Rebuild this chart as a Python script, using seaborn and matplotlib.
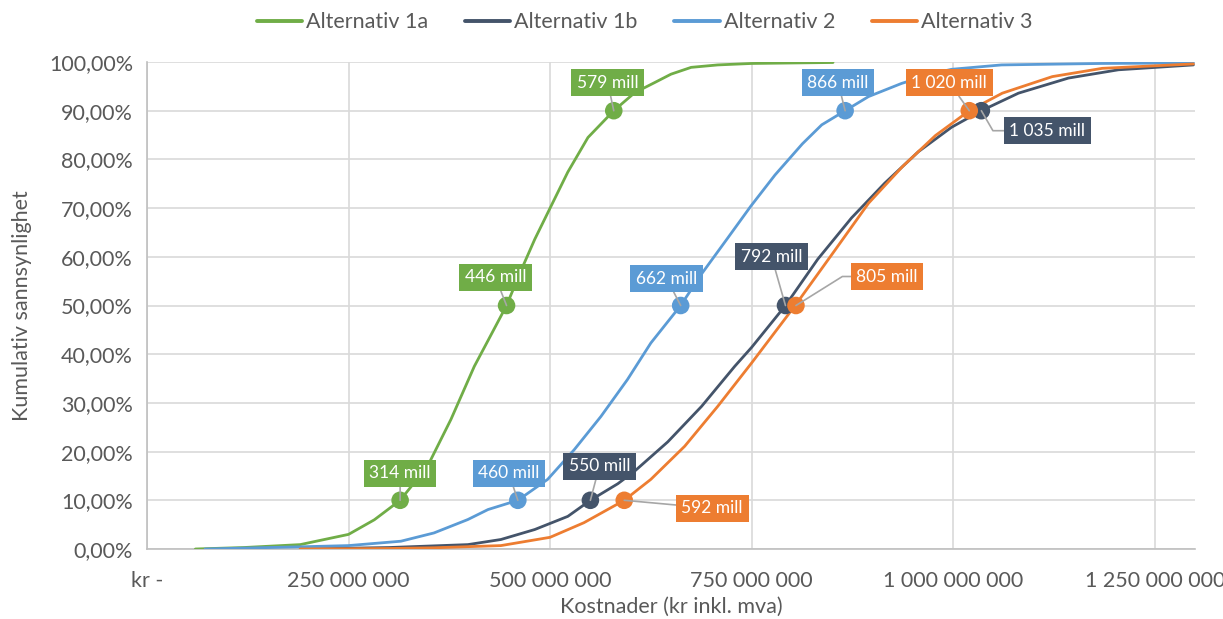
import numpy as np
import pandas as pd
import matplotlib
matplotlib.use("Agg")
import matplotlib.pyplot as plt
import seaborn as sns
from matplotlib.ticker import FuncFormatter, FixedLocator

# ---------------- data (costs in million NOK, cumulative probability in %) -------------
series_names = ["Alternativ 1a", "Alternativ 1b", "Alternativ 2", "Alternativ 3"]

alt1a_cost = [60, 120, 190, 250, 282, 314, 348, 377, 406, 423, 446, 464, 481, 500, 522,
              547, 579, 605, 630, 650, 675, 708, 750, 851]
alt1a_prob = [0, 0.3, 0.9, 3.0, 6.0, 10, 17, 26.6, 37.5, 42.8, 50, 57.2, 63.6, 70, 77.4,
              84.5, 90, 93.7, 95.8, 97.5, 98.9, 99.4, 99.7, 99.9]

alt1b_cost = [190, 300, 398, 439, 481, 522, 550, 584, 605, 646, 688, 729, 750, 792, 832,
              874, 915, 957, 998, 1035, 1081, 1143, 1205, 1298]
alt1b_prob = [0, 0.3, 0.9, 1.95, 4.0, 6.7, 10, 13.4, 16, 22, 29.3, 37.5, 41.4, 50, 59.5,
              68, 75.1, 81.6, 86.6, 90, 93.6, 96.7, 98.4, 99.4]

alt2_cost = [72, 190, 250, 315, 356, 398, 423, 460, 497, 530, 563, 596, 625, 662, 688,
             721, 749, 779, 813, 837, 866, 895, 936, 977, 998, 1060, 1184, 1298]
alt2_prob = [0, 0.45, 0.7, 1.6, 3.3, 6.05, 8.1, 10, 14.3, 20.4, 27.2, 34.8, 42.3, 50, 56.5,
             64, 70.4, 76.8, 83.2, 87.1, 90, 92.9, 95.6, 97.7, 98.5, 99.4, 99.7, 99.8]

alt3_cost = [190, 300, 356, 439, 500, 542, 592, 625, 667, 708, 750, 804, 854, 895, 937,
             978, 1020, 1061, 1123, 1185, 1298]
alt3_prob = [0, 0.1, 0.25, 0.7, 2.4, 5.4, 10, 14.3, 21.1, 29.3, 38.2, 50, 61.5, 71, 78.5,
             84.9, 90, 93.6, 97, 98.7, 99.6]

# percentile markers (P10, P50, P90)
marker_probs = [10, 50, 90]
alt1a_pct = [314, 446, 579]
alt1b_pct = [550, 792, 1035]
alt2_pct = [460, 662, 866]
alt3_pct = [592, 805, 1020]

x_ticks = [0, 250e6, 500e6, 750e6, 1000e6, 1250e6]
y_ticks = [0, 0.1, 0.2, 0.3, 0.4, 0.5, 0.6, 0.7, 0.8, 0.9, 1.0]

# ---------------- styling -------------
colors = {"Alternativ 1a": "#70AD47", "Alternativ 1b": "#44546A",
          "Alternativ 2": "#5B9BD5", "Alternativ 3": "#ED7D31"}
# label offsets in pixels (box centre relative to marker), per series per percentile
label_offsets = {
    "Alternativ 1a": [(0, 27), (-11, 28), (-6, 28)],
    "Alternativ 1b": [(9, 34), (-14, 49), (66, -20)],
    "Alternativ 2": [(-9, 27), (-14, 27), (-7, 28)],
    "Alternativ 3": [(88, -8), (91, 29), (-20, 28)],
}
label_conn = {
    ("Alternativ 1b", 2): "angle,angleA=0,angleB=-60,rad=0",
    ("Alternativ 3", 1): "angle,angleA=0,angleB=32,rad=0",
}

sns.set_theme(style="white")
font = "Lato"
plt.rcParams["font.family"] = [font, "DejaVu Sans"]
text_col = "#595959"
grid_col = "#D9D9D9"

costs = [alt1a_cost, alt1b_cost, alt2_cost, alt3_cost]
probs = [alt1a_prob, alt1b_prob, alt2_prob, alt3_prob]
pcts = [alt1a_pct, alt1b_pct, alt2_pct, alt3_pct]

rows = []
for name, c, p in zip(series_names, costs, probs):
    for ci, pi in zip(c, p):
        rows.append({"serie": name, "kost": ci * 1e6, "sann": pi / 100.0})
df = pd.DataFrame(rows)

mrows = []
for name, pc in zip(series_names, pcts):
    for v, pr in zip(pc, marker_probs):
        mrows.append({"serie": name, "kost": v * 1e6, "sann": pr / 100.0})
mdf = pd.DataFrame(mrows)

fig = plt.figure(figsize=(12.23, 6.19), dpi=100)
ax = fig.add_axes([147 / 1223, 1 - 549 / 619, (1195 - 147) / 1223, (549 - 62) / 619])

sns.lineplot(data=df, x="kost", y="sann", hue="serie", palette=colors, sort=False,
             units="serie", estimator=None, linewidth=2.0, ax=ax, zorder=3,
             hue_order=series_names)
sns.scatterplot(data=mdf, x="kost", y="sann", hue="serie", palette=colors, s=160,
                edgecolor="none", ax=ax, zorder=4, legend=False, hue_order=series_names)
for ln in ax.get_lines():
    ln.set_solid_joinstyle("round")

ax.set_xlim(0, 1.3e9)
ax.set_ylim(0, 1.0)
ax.xaxis.set_major_locator(FixedLocator(x_ticks))
ax.yaxis.set_major_locator(FixedLocator(y_ticks))


def xfmt(v, pos):
    if v == 0:
        return "kr -"
    return f"{int(round(v)):,}".replace(",", " ")


def yfmt(v, pos):
    return f"{v * 100:.2f}%".replace(".", ",")


ax.xaxis.set_major_formatter(FuncFormatter(xfmt))
ax.yaxis.set_major_formatter(FuncFormatter(yfmt))
ax.grid(True, color=grid_col, linewidth=1.2, zorder=0)
ax.set_axisbelow(True)
for s in ["top", "right"]:
    ax.spines[s].set_visible(False)
for s in ["left", "bottom"]:
    ax.spines[s].set_color("#BFBFBF")
    ax.spines[s].set_linewidth(1.2)
ax.tick_params(axis="both", which="major", length=6, width=1.2, color="#BFBFBF",
               labelsize=15.5, labelcolor=text_col, direction="out")
ax.tick_params(axis="x", pad=10)
ax.tick_params(axis="y", pad=4)
ax.set_xlabel("Kostnader (kr inkl. mva)", fontsize=15.5, color=text_col, labelpad=4)
ax.set_ylabel("Kumulativ sannsynlighet", fontsize=15.5, color=text_col, labelpad=12)

# labels
for name, pc in zip(series_names, pcts):
    for j, (v, pr) in enumerate(zip(pc, marker_probs)):
        lab = f"{v:,} mill".replace(",", " ")
        off = label_offsets[name][j]
        cs = label_conn.get((name, j), "arc3,rad=0")
        ax.annotate(lab, xy=(v * 1e6, pr / 100.0), xytext=off, textcoords="offset pixels",
                    ha="center", va="center", fontsize=12.5, color="white",
                    bbox=dict(boxstyle="square,pad=0.32", fc=colors[name], ec="none"),
                    arrowprops=dict(arrowstyle="-", color="#A6A6A6", lw=1.2,
                                    connectionstyle=cs, shrinkA=0, shrinkB=0),
                    zorder=6)

leg = ax.legend(loc="center", bbox_to_anchor=(0.475, 1.082), ncol=4, frameon=False,
                fontsize=15.5, handlelength=2.1, handletextpad=0.2, columnspacing=1.7)
for t in leg.get_texts():
    t.set_color(text_col)
for h in leg.get_lines():
    h.set_linewidth(2.8)
leg.set_title(None)

fig.savefig("out.png", dpi=100)
